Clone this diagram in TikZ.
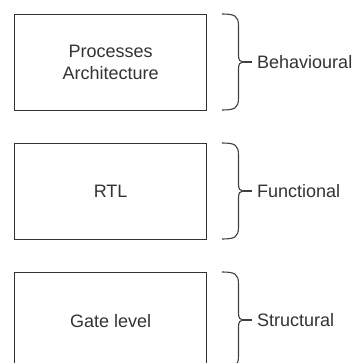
\documentclass[tikz,border=0pt]{standalone}
\usepackage{fontspec}
\setmainfont{Liberation Sans}
\begin{document}
\begin{tikzpicture}[x=1pt,y=-1pt,
  every node/.style={font=\fontsize{18}{22}\selectfont, text=black!80},
  levelbox/.style={draw=black!80, line width=1.3pt, minimum width=192pt, minimum height=96pt,
    inner sep=0pt, align=center, anchor=north west},
  bracepath/.style={draw=black!75, line width=1.1pt},
  levellabel/.style={anchor=west, inner sep=0pt}]
  \clip (0,0) rectangle (359,363);
  \fill[white] (0,0) rectangle (359,363);

  % abstraction levels
  \node[levelbox] (proc) at (14,14) {Processes\\Architecture};
  \node[levelbox] (rtl)  at (14,143) {RTL};
  \node[levelbox] (gate) at (14,272) {Gate level};

  % right braces grouping each level, with a tick toward the label
  \foreach \name/\top/\txt in {beh/14/Behavioural, fun/143/Functional, str/272/Structural}{
    \pgfmathsetmacro{\mid}{\top+48}
    \pgfmathsetmacro{\bot}{\top+96}
    \draw[bracepath] (222,\top) .. controls (235,\top) and (238.5,\top+2) .. (238.5,\top+12)
      -- (238.5,\mid-7) .. controls (238.5,\mid-2) and (240,\mid) .. (243,\mid)
      .. controls (240,\mid) and (238.5,\mid+2) .. (238.5,\mid+7)
      -- (238.5,\bot-12) .. controls (238.5,\bot-2) and (235,\bot) .. (222,\bot);
    \coordinate (\name-tip) at (243,\mid);
    \node[levellabel] (\name) at (257,\mid) {\txt};
    \draw[bracepath] (\name-tip) -- ([xshift=-5pt]\name.west);
  }
\end{tikzpicture}
\end{document}
